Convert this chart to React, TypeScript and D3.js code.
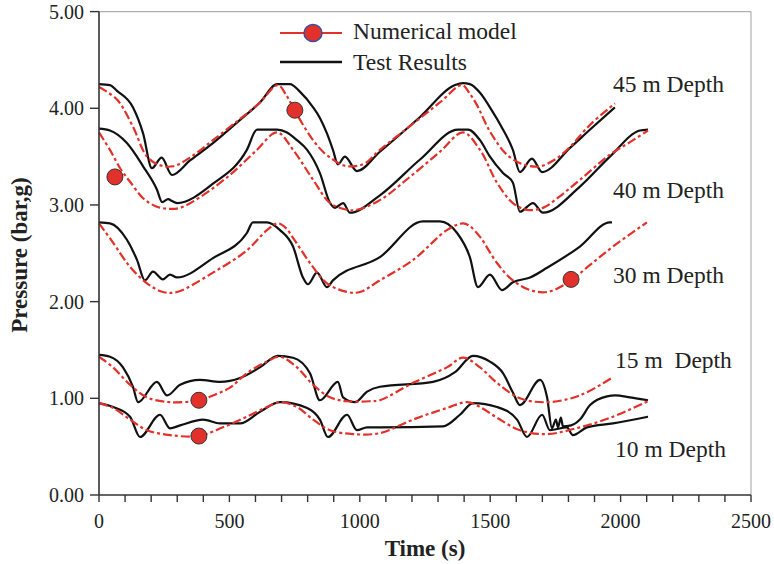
import React from 'react';
import * as d3 from 'd3';

type Pt = [number, number];

const xTicks = [0, 500, 1000, 1500, 2000, 2500];
const yTicks = [0, 1, 2, 3, 4, 5];

const model45: Pt[] = [[0,4.22],[69,4.09],[130,3.81],[184,3.50],[234,3.41],[284,3.40],[349,3.49],[437,3.67],[541,3.89],[617,4.06],[686,4.24],[717,4.14],[744,4.01],[782,3.83],[821,3.67],[859,3.55],[897,3.47],[936,3.41],[974,3.40],[1020,3.43],[1077,3.57],[1204,3.84],[1307,4.06],[1392,4.24],[1422,4.15],[1450,4.03],[1499,3.76],[1564,3.52],[1626,3.42],[1691,3.40],[1748,3.47],[1806,3.60],[1883,3.83],[1978,4.05]];
const test45: Pt[] = [[0,4.25],[42,4.24],[69,4.18],[130,4.01],[169,3.74],[203,3.38],[240,3.49],[280,3.31],[349,3.46],[437,3.64],[541,3.88],[617,4.06],[683,4.25],[732,4.25],[771,4.17],[821,4.01],[847,3.90],[874,3.74],[897,3.57],[916,3.42],[943,3.50],[989,3.35],[1077,3.55],[1231,3.91],[1365,4.24],[1396,4.26],[1422,4.25],[1461,4.16],[1499,4.01],[1549,3.78],[1587,3.57],[1614,3.34],[1660,3.48],[1699,3.34],[1806,3.59],[1883,3.78],[1978,4.01]];

const model40: Pt[] = [[0,3.75],[42,3.57],[81,3.38],[119,3.24],[169,3.07],[215,2.99],[265,2.96],[311,2.97],[387,3.08],[502,3.31],[598,3.55],[683,3.75],[744,3.57],[821,3.26],[886,3.02],[951,2.95],[989,2.95],[1077,3.05],[1192,3.29],[1307,3.55],[1396,3.75],[1461,3.57],[1526,3.23],[1587,3.02],[1641,2.95],[1702,2.97],[1767,3.09],[1844,3.26],[1959,3.52],[2036,3.65],[2105,3.77]];
const test40: Pt[] = [[0,3.79],[42,3.77],[107,3.64],[169,3.40],[222,3.16],[242,3.03],[265,3.06],[280,3.04],[299,3.02],[437,3.22],[567,3.57],[606,3.78],[683,3.78],[721,3.75],[759,3.67],[798,3.57],[847,3.33],[886,3.02],[905,2.97],[936,3.02],[962,2.92],[1077,3.10],[1231,3.47],[1377,3.78],[1415,3.78],[1461,3.67],[1499,3.50],[1549,3.33],[1587,3.23],[1614,2.93],[1664,3.02],[1702,2.92],[1844,3.19],[1959,3.50],[2074,3.77],[2105,3.78]];

const model30: Pt[] = [[0,2.81],[54,2.61],[119,2.36],[184,2.19],[245,2.10],[299,2.10],[437,2.30],[567,2.53],[644,2.74],[686,2.81],[717,2.76],[744,2.66],[809,2.40],[874,2.19],[951,2.10],[1001,2.10],[1077,2.22],[1204,2.43],[1334,2.74],[1396,2.81],[1422,2.78],[1461,2.67],[1526,2.40],[1587,2.22],[1653,2.12],[1718,2.10],[1794,2.19],[1883,2.38],[1971,2.57],[2101,2.82]];
const test30: Pt[] = [[0,2.82],[42,2.81],[107,2.64],[146,2.43],[176,2.22],[207,2.31],[245,2.23],[272,2.28],[299,2.25],[437,2.45],[567,2.71],[590,2.82],[644,2.82],[694,2.74],[744,2.57],[782,2.25],[801,2.18],[836,2.30],[874,2.15],[897,2.22],[1077,2.46],[1242,2.83],[1307,2.83],[1373,2.71],[1422,2.46],[1453,2.15],[1499,2.28],[1545,2.12],[1587,2.20],[1653,2.25],[1718,2.35],[1844,2.57],[1959,2.82],[1967,2.82]];

const model15: Pt[] = [[0,1.43],[54,1.32],[119,1.14],[184,1.01],[272,0.96],[383,0.98],[437,1.03],[502,1.11],[567,1.26],[644,1.38],[694,1.43],[759,1.32],[821,1.14],[886,1.01],[951,0.97],[1039,0.97],[1077,0.98],[1204,1.16],[1334,1.32],[1396,1.42],[1461,1.32],[1526,1.16],[1614,1.00],[1718,0.96],[1844,1.03],[1971,1.22]];
const test15: Pt[] = [[0,1.45],[42,1.43],[92,1.32],[130,1.12],[150,0.96],[222,1.17],[261,1.03],[311,1.14],[387,1.19],[464,1.17],[541,1.21],[617,1.32],[686,1.44],[744,1.42],[809,1.26],[847,0.98],[916,1.17],[936,1.01],[982,0.96],[1028,1.07],[1077,1.12],[1281,1.17],[1365,1.27],[1434,1.44],[1499,1.38],[1549,1.26],[1587,1.06],[1614,0.93],[1691,1.19],[1718,1.01],[1737,0.69],[1752,0.78],[1760,0.70],[1771,0.80],[1779,0.71],[1810,0.72],[1844,0.78],[1883,0.93],[1948,1.02],[1980,1.03],[2036,1.01],[2105,0.98]];

const model10: Pt[] = [[0,0.95],[54,0.90],[119,0.78],[184,0.67],[272,0.62],[383,0.61],[475,0.70],[567,0.81],[644,0.91],[694,0.96],[759,0.91],[821,0.78],[886,0.67],[974,0.63],[1077,0.64],[1204,0.78],[1334,0.90],[1411,0.96],[1461,0.91],[1526,0.80],[1614,0.67],[1718,0.63],[1844,0.70],[1971,0.81],[2105,0.97]];
const test10: Pt[] = [[0,0.95],[54,0.91],[119,0.81],[157,0.60],[234,0.83],[272,0.69],[311,0.72],[399,0.78],[464,0.74],[541,0.74],[617,0.86],[694,0.96],[798,0.90],[847,0.78],[878,0.60],[951,0.83],[989,0.67],[1028,0.70],[1077,0.70],[1319,0.71],[1384,0.83],[1434,0.95],[1526,0.91],[1603,0.78],[1641,0.60],[1699,0.83],[1729,0.67],[1794,0.70],[1817,0.62],[1871,0.70],[1971,0.74],[2105,0.81]];

const markerPoints: Pt[] = [[751,3.98],[61,3.29],[1810,2.23],[383,0.98],[383,0.61]];

const depthLabels = ['45 m Depth', '40 m Depth', '30 m Depth', '15 m  Depth', '10 m Depth'];
const depthLabelPos: Pt[] = [[613, 92], [613, 198], [613, 283], [615, 368], [615, 457]];

const RED = '#e2312b';
const SERIF = '"Liberation Serif", "Times New Roman", serif';

export default function App() {
  const x = d3.scaleLinear().domain([0, 2500]).range([99, 751]);
  const y = d3.scaleLinear().domain([0, 5]).range([495, 11.6]);
  const testLine = d3.line<Pt>().x(d => x(d[0])).y(d => y(d[1])).curve(d3.curveMonotoneX);
  const modelLine = d3.line<Pt>().x(d => x(d[0])).y(d => y(d[1])).curve(d3.curveCatmullRom.alpha(0.5));
  const tests = [test45, test40, test30, test15, test10];
  const models = [model45, model40, model30, model15, model10];
  const minor = d3.range(0, 2501, 100);

  return (
    <svg width={774} height={564} style={{ position: 'absolute', left: 0, top: 0, background: '#fff' }} fontFamily={SERIF}>
      <rect x={0} y={0} width={774} height={564} fill="#fff" />
      <line x1={x(0)} x2={x(2500)} y1={y(5)} y2={y(5)} stroke="#b0b0b0" strokeWidth={1.2} />
      <line x1={x(2500)} x2={x(2500)} y1={y(5)} y2={y(0)} stroke="#b0b0b0" strokeWidth={1.2} />
      {tests.map((s, i) => (
        <path key={'t' + i} d={testLine(s) || ''} fill="none" stroke="#111" strokeWidth={2.2} strokeLinejoin="round" />
      ))}
      {models.map((s, i) => (
        <path key={'m' + i} d={modelLine(s) || ''} fill="none" stroke={RED} strokeWidth={2.2} strokeDasharray="9,3,3,3" />
      ))}
      {markerPoints.map((p, i) => (
        <circle key={'c' + i} cx={x(p[0])} cy={y(p[1])} r={8} fill={RED} stroke="#333" strokeWidth={1} />
      ))}
      <line x1={x(0)} x2={x(0)} y1={y(5)} y2={y(0)} stroke="#333" strokeWidth={1.6} />
      <line x1={x(0)} x2={x(2500)} y1={y(0)} y2={y(0)} stroke="#333" strokeWidth={1.6} />
      {minor.map(t => (
        <line key={'mx' + t} x1={x(t)} x2={x(t)} y1={y(0)} y2={y(0) + 7} stroke="#333" strokeWidth={1.4} />
      ))}
      {xTicks.map(t => (
        <text key={'xl' + t} x={x(t)} y={528} fontSize={20} textAnchor="middle" fill="#222">{t}</text>
      ))}
      {yTicks.map(v => (
        <g key={'yt' + v}>
          <line x1={x(0) - 9} x2={x(0)} y1={y(v)} y2={y(v)} stroke="#333" strokeWidth={1.4} />
          <text x={84} y={y(v) + 7} fontSize={20} textAnchor="end" fill="#222">{v.toFixed(2)}</text>
        </g>
      ))}
      <text x={425} y={556} fontSize={23} fontWeight="bold" textAnchor="middle" fill="#222">Time (s)</text>
      <text transform={`translate(27,255) rotate(-90)`} fontSize={23} fontWeight="bold" textAnchor="middle" fill="#222">Pressure (bar,g)</text>
      {depthLabels.map((l, i) => (
        <text key={'dl' + i} x={depthLabelPos[i][0]} y={depthLabelPos[i][1]} fontSize={23.5} fill="#222" style={{ whiteSpace: 'pre' }}>{l}</text>
      ))}
      <line x1={280} x2={342} y1={33} y2={33} stroke={RED} strokeWidth={2.2} />
      <ellipse cx={313} cy={33} rx={9} ry={8.5} fill={RED} stroke="#3a4fa0" strokeWidth={1.5} />
      <text x={353} y={39} fontSize={23.5} fill="#222">Numerical model</text>
      <line x1={280} x2={342} y1={62} y2={62} stroke="#111" strokeWidth={2.5} />
      <text x={353} y={70} fontSize={23.5} fill="#222">Test Results</text>
    </svg>
  );
}
